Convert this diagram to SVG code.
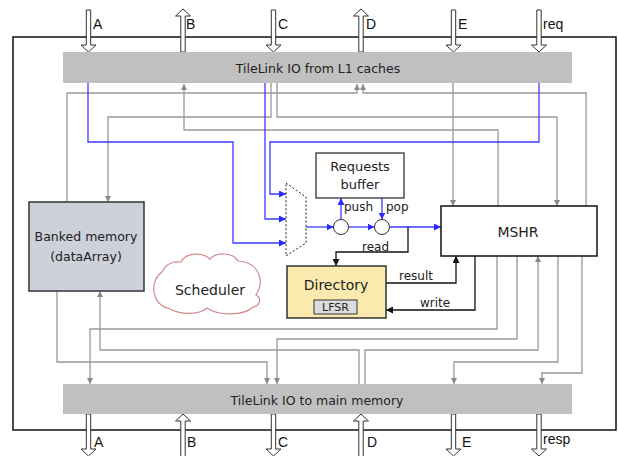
<svg xmlns="http://www.w3.org/2000/svg" width="618" height="456" viewBox="0 0 618 456">
<style>
.t{font-family:"DejaVu Sans",Verdana,sans-serif;fill:#222}
.lab{font-family:"Liberation Sans",Arial,sans-serif;font-size:14px;fill:#111}
.g{fill:none;stroke:#999;stroke-width:1.3}
.b{fill:none;stroke:#3a3aff;stroke-width:1.3}
.k{fill:none;stroke:#111;stroke-width:1.3}
.io{fill:#fff;stroke:#333;stroke-width:1}
.bar{fill:#c0c0c0}
</style>
<defs>
<marker id="ag" viewBox="0 0 6 6" refX="6" refY="3" markerWidth="6" markerHeight="6" markerUnits="userSpaceOnUse" orient="auto"><path d="M0,0 L6,3 L0,6 Z" fill="#888"/></marker>
<marker id="ab" viewBox="0 0 7 7" refX="7" refY="3.5" markerWidth="7" markerHeight="7" markerUnits="userSpaceOnUse" orient="auto"><path d="M0,0 L7,3.5 L0,7 Z" fill="#2a2aff"/></marker>
<marker id="ak" viewBox="0 0 7 7" refX="7" refY="3.5" markerWidth="7" markerHeight="7" markerUnits="userSpaceOnUse" orient="auto"><path d="M0,0 L7,3.5 L0,7 Z" fill="#111"/></marker>
<path id="down" d="M-2.2,0 H2.2 V35 H7.5 L0,42 L-7.5,35 H-2.2 Z"/>
<path id="up" d="M0,0 L7.5,7 H2.2 V43 H-2.2 V7 H-7.5 Z"/>
</defs>

<rect x="13" y="37" width="603" height="393" fill="#fff" stroke="#111" stroke-width="1.5"/>

<g id="io-top">
<use href="#down" x="88.5" y="10" class="io"/>
<use href="#up" x="183" y="9" class="io"/>
<use href="#down" x="273.5" y="10" class="io"/>
<use href="#up" x="361" y="9" class="io"/>
<use href="#down" x="453.5" y="10" class="io"/>
<use href="#down" x="539" y="10" class="io"/>
<text class="lab" x="93" y="29">A</text>
<text class="lab" x="186" y="29">B</text>
<text class="lab" x="278" y="29">C</text>
<text class="lab" x="366" y="29">D</text>
<text class="lab" x="458" y="29">E</text>
<text class="lab" x="543" y="29">req</text>
</g>

<g id="io-bottom">
<use href="#down" x="88.5" y="414" class="io"/>
<use href="#up" x="183" y="414" class="io"/>
<use href="#down" x="273.5" y="414" class="io"/>
<use href="#up" x="361" y="414" class="io"/>
<use href="#down" x="453.5" y="414" class="io"/>
<use href="#down" x="539" y="414" class="io"/>
<text class="lab" x="94" y="447">A</text>
<text class="lab" x="187" y="447">B</text>
<text class="lab" x="278" y="447">C</text>
<text class="lab" x="367" y="447">D</text>
<text class="lab" x="462" y="447">E</text>
<text class="lab" x="543" y="444">resp</text>
</g>

<g id="tl-top">
<rect class="bar" x="63" y="52" width="509" height="31"/>
<text class="t" x="318" y="73" font-size="12.5" text-anchor="middle">TileLink IO from L1 caches</text>
</g>
<g id="tl-bottom">
<rect class="bar" x="63" y="384" width="509" height="30"/>
<text class="t" x="317" y="405" font-size="12.5" text-anchor="middle">TileLink IO to main memory</text>
</g>

<g id="connectors">
<path class="g" d="M67,202 V93 H357 V84" marker-end="url(#ag)"/>
<path class="g" d="M586,206 V93 H363 V84" marker-end="url(#ag)"/>
<path class="g" d="M498,206 V130 H184 V84" marker-end="url(#ag)"/>
<path class="g" d="M271,83 V117 H108 V202" marker-end="url(#ag)"/>
<path class="g" d="M277,83 V117 H557 V206" marker-end="url(#ag)"/>
<path class="g" d="M453,83 V206" marker-end="url(#ag)"/>
<path class="g" d="M57,291 V362 H267 V384" marker-end="url(#ag)"/>
<path class="g" d="M497,256 V329 H90 V384" marker-end="url(#ag)"/>
<path class="g" d="M517,256 V339 H277 V384" marker-end="url(#ag)"/>
<path class="g" d="M359,384 V350 H100 V291" marker-end="url(#ag)"/>
<path class="g" d="M365,384 V350 H538 V256" marker-end="url(#ag)"/>
<path class="g" d="M558,256 V362 H454 V384" marker-end="url(#ag)"/>
<path class="g" d="M582,256 V373 H542 V384" marker-end="url(#ag)"/>

<path class="b" d="M88,83 V142 H233 V243 H286" marker-end="url(#ab)"/>
<path class="b" d="M265,83 V219 H286" marker-end="url(#ab)"/>
<path class="b" d="M539,83 V142 H270 V194 H286" marker-end="url(#ab)"/>
<path class="b" d="M306,227 H333.5" marker-end="url(#ab)"/>
<path class="b" d="M348.5,227 H374.5" marker-end="url(#ab)"/>
<path class="b" d="M389.5,227 H441" marker-end="url(#ab)"/>
<path class="b" d="M341,219.5 V198" marker-end="url(#ab)"/>
<path class="b" d="M382,198 V219.5" marker-end="url(#ab)"/>

<path class="k" d="M408,227 V252 H336 V266" marker-end="url(#ak)"/>
<path class="k" d="M386,283 H456 V256" marker-end="url(#ak)"/>
<path class="k" d="M475,256 V310 H386" marker-end="url(#ak)" stroke-width="1.6"/>
<text class="t" x="344" y="211" font-size="12">push</text>
<text class="t" x="386" y="211" font-size="12">pop</text>
<text class="t" x="362" y="251" font-size="12">read</text>
<text class="t" x="399" y="280" font-size="12">result</text>
<text class="t" x="420" y="307" font-size="12">write</text>
</g>

<g id="banked">
<rect x="29" y="202" width="115" height="89" fill="#cdd1da" stroke="#333" stroke-width="1.5"/>
<text class="t" x="86" y="241" font-size="12.5" text-anchor="middle">Banked memory</text>
<text class="t" x="86" y="261" font-size="12.5" text-anchor="middle">(dataArray)</text>
</g>

<g id="scheduler">
<path d="M162,272 C150,280 150,304 170,309 C184,316 200,314 207,308 C218,316 244,316 253,307 C260,306 262,298 256,295 C265,283 260,262 238,261 C233,252 216,252 210,259 C203,252 186,252 181,262 C172,261 165,265 162,272 Z" fill="#fff" stroke="#d48a8a" stroke-width="1.2"/>
<text class="t" x="210" y="295" font-size="14" text-anchor="middle">Scheduler</text>
</g>

<g id="mux">
<path d="M286,183 L306,197 L306,243 L286,256 Z" fill="#fff" stroke="#222" stroke-width="1" stroke-dasharray="2,2"/>
</g>

<g id="buffer">
<rect x="316" y="153" width="88" height="45" fill="#fff" stroke="#222" stroke-width="1.2"/>
<text class="t" x="360" y="171" font-size="13" text-anchor="middle">Requests</text>
<text class="t" x="360" y="189" font-size="13" text-anchor="middle">buffer</text>
</g>

<g id="push-node"><circle cx="341" cy="227" r="7.5" fill="#fff" stroke="#333" stroke-width="1"/></g>
<g id="pop-node"><circle cx="382" cy="227" r="7.5" fill="#fff" stroke="#333" stroke-width="1"/></g>

<g id="directory">
<rect x="287" y="266" width="99" height="52" fill="#fbeaad" stroke="#333" stroke-width="1.5"/>
<text class="t" x="336" y="290" font-size="14" text-anchor="middle">Directory</text>
<rect x="314" y="300" width="43" height="14" fill="#dcdcdc" stroke="#333" stroke-width="1"/>
<text class="t" x="335.5" y="311" font-size="11" text-anchor="middle">LFSR</text>
</g>

<g id="mshr">
<rect x="441" y="206" width="156" height="50" fill="#fff" stroke="#111" stroke-width="1.5"/>
<text class="t" x="518" y="237" font-size="14" text-anchor="middle">MSHR</text>
</g>
</svg>
